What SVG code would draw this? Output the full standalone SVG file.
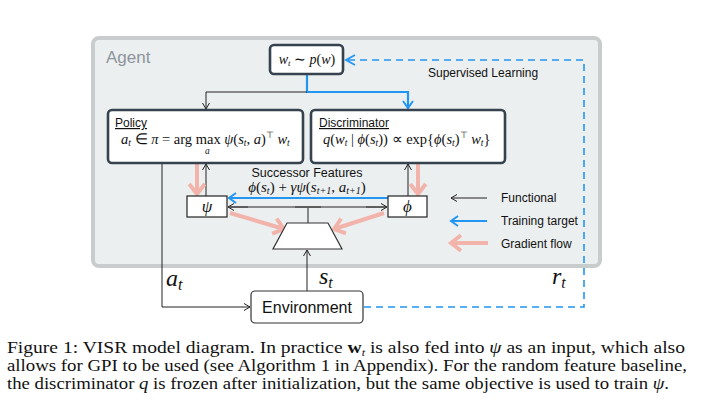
<svg xmlns="http://www.w3.org/2000/svg" width="710" height="405" viewBox="0 0 710 405">
<style>
.sans{font-family:"Liberation Sans",Arial,sans-serif;fill:#111}
.math{font-family:"Liberation Serif","Times New Roman",serif;font-style:italic;fill:#111}
.up{font-style:normal}
.box{fill:#fff;stroke:#36424e;stroke-width:2.6}
.small{fill:#fff;stroke:#222;stroke-width:1.2}
.blk{fill:none;stroke:#222;stroke-width:1}
.blue{fill:none;stroke:#2196f3;stroke-width:2.2}
.pink{fill:none;stroke:#f1b3aa;stroke-width:4}
.dash{fill:none;stroke:#2196f3;stroke-width:1.6;stroke-dasharray:7,5}
.cap{font-family:"Liberation Serif","Times New Roman",serif;font-size:16px;fill:#111}
</style>
<defs>
<marker id="ab" markerUnits="userSpaceOnUse" markerWidth="12" markerHeight="12" viewBox="-8 -6 10 12" refX="0" refY="0" orient="auto"><path d="M-6,-3.5 L0,0 L-6,3.5" fill="none" stroke="#222" stroke-width="1"/></marker>
<marker id="au" markerUnits="userSpaceOnUse" markerWidth="14" markerHeight="14" viewBox="-9 -7 11 14" refX="0" refY="0" orient="auto"><path d="M-7,-5 L0,0 L-7,5" fill="none" stroke="#2196f3" stroke-width="2"/></marker>
<marker id="ap" markerUnits="userSpaceOnUse" markerWidth="20" markerHeight="20" viewBox="-12 -9 14 18" refX="0" refY="0" orient="auto"><path d="M-9,-7 L0,0 L-9,7" fill="none" stroke="#f1b3aa" stroke-width="3.5"/></marker>
</defs>
<rect width="710" height="405" fill="#fff"/>
<g id="agent">
<rect x="93" y="38" width="507" height="228" rx="6" fill="#eceff0" stroke="#c9cccd" stroke-width="4"/>
<text x="106" y="63" font-family="Liberation Sans,Arial,sans-serif" font-size="17" fill="#8c959b">Agent</text>
</g>
<g id="connectors">
<path class="blue" d="M307,74 V92 H408 V108" marker-end="url(#au)"/>
<path class="blk" d="M307,92 H206 V109" marker-end="url(#ab)"/>
<path class="blk" d="M162,163 V307 H250" marker-end="url(#ab)"/>
<path class="blk" d="M307,291 V250" marker-end="url(#ab)"/>
<path class="blk" d="M206,196 V164" marker-end="url(#ab)"/>
<path class="blk" d="M408,196 V164" marker-end="url(#ab)"/>
<path class="blk" d="M308,223 V207"/>
<path d="M230,207 H248 M295,207 H321 M366,207 H386" stroke="#9a9a9a" stroke-width="2"/>
<path class="blk" d="M240,207 H228" marker-end="url(#ab)"/>
<path class="blk" d="M240,207 H387" marker-end="url(#ab)"/>
<path class="blue" d="M388,198 H229" marker-end="url(#au)"/>
<path class="pink" d="M197,164 V194" marker-end="url(#ap)"/>
<path class="pink" d="M418,164 V194" marker-end="url(#ap)"/>
<path class="pink" d="M230,213 L284,229" marker-end="url(#ap)"/>
<path class="pink" d="M384,213 L334,229" marker-end="url(#ap)"/>
<path class="dash" d="M364,307 H584 V60 H346"/>
<path d="M355,55 L346,60 L355,65" fill="none" stroke="#2196f3" stroke-width="1.8"/>
</g>
<g id="legend">
<path class="blk" d="M487,198 H451" marker-end="url(#ab)"/>
<path class="blue" d="M487,221 H451" marker-end="url(#au)"/>
<path class="pink" d="M488,243 H451" marker-end="url(#ap)"/>
<text class="sans" x="501" y="202" font-size="12">Functional</text>
<text class="sans" x="501" y="225" font-size="12">Training target</text>
<text class="sans" x="501" y="248" font-size="12">Gradient flow</text>
<text class="sans" x="428" y="77" font-size="12">Supervised Learning</text>
</g>
<g id="sampler">
<rect class="box" x="270" y="45" width="73" height="29" rx="4"/>
<text class="math" x="307" y="64" font-size="14" text-anchor="middle">w<tspan font-size="9" dy="2">t</tspan><tspan class="up" dy="-2"> ∼ </tspan>p<tspan class="up">(</tspan>w<tspan class="up">)</tspan></text>
</g>
<g id="policy">
<rect class="box" x="108" y="110" width="195" height="53" rx="4"/>
<text class="sans" x="115" y="127" font-size="12" text-decoration="underline">Policy</text>
<text class="math" x="121" y="144" font-size="14.5">a<tspan font-size="9.5" dy="2">t</tspan><tspan class="up" dy="-2"> ∈ </tspan>π<tspan class="up"> = arg max </tspan>ψ<tspan class="up">(</tspan>s<tspan font-size="9.5" dy="2">t</tspan><tspan class="up" dy="-2">, </tspan>a<tspan class="up">)</tspan><tspan class="up" font-size="9" dy="-6">⊤</tspan><tspan dy="6"> w</tspan><tspan font-size="9.5" dy="2">t</tspan></text>
<text class="math" x="205" y="154" font-size="9.5">a</text>
</g>
<g id="discriminator">
<rect class="box" x="311" y="110" width="194" height="53" rx="4"/>
<text class="sans" x="319" y="127" font-size="12" text-decoration="underline">Discriminator</text>
<text class="math" x="323" y="144" font-size="14.5">q<tspan class="up">(</tspan>w<tspan font-size="9.5" dy="2">t</tspan><tspan class="up" dy="-2"> | </tspan>ϕ<tspan class="up">(</tspan>s<tspan font-size="9.5" dy="2">t</tspan><tspan class="up" dy="-2">)) ∝ exp{</tspan>ϕ<tspan class="up">(</tspan>s<tspan font-size="9.5" dy="2">t</tspan><tspan class="up" dy="-2">)</tspan><tspan class="up" font-size="9" dy="-6">⊤</tspan><tspan dy="6"> w</tspan><tspan font-size="9.5" dy="2">t</tspan><tspan class="up" dy="-2">}</tspan></text>
</g>
<g id="psi">
<rect class="small" x="187" y="196" width="40" height="21"/>
<text class="math" x="207" y="212" font-size="17" text-anchor="middle">ψ</text>
</g>
<g id="phi">
<rect class="small" x="388" y="196" width="39" height="21"/>
<text class="math" x="407.5" y="212" font-size="17" text-anchor="middle">ϕ</text>
</g>
<g id="encoder">
<polygon points="287,223 328,223 342,249 273,249" fill="#fff" stroke="#333" stroke-width="1.2"/>
</g>
<g id="sf-label">
<text class="sans" x="307" y="177" font-size="12.5" text-anchor="middle">Successor Features</text>
<text class="math" x="307" y="192" font-size="15" text-anchor="middle">ϕ<tspan class="up">(</tspan>s<tspan font-size="10" dy="2">t</tspan><tspan class="up" dy="-2">) + </tspan>γψ<tspan class="up">(</tspan>s<tspan font-size="10" dy="2">t+1</tspan><tspan class="up" dy="-2">, </tspan>a<tspan font-size="10" dy="2">t+1</tspan><tspan class="up" dy="-2">)</tspan></text>
</g>
<g id="environment">
<rect x="251" y="291" width="112" height="32" rx="4" fill="#fff" stroke="#333" stroke-width="1.2"/>
<text class="sans" x="307" y="313" font-size="16" text-anchor="middle">Environment</text>
</g>
<g id="labels">
<text class="math" x="166" y="286" font-size="24">a<tspan font-size="16" dy="4">t</tspan></text>
<text class="math" x="319" y="284" font-size="24">s<tspan font-size="16" dy="4">t</tspan></text>
<text class="math" x="552" y="284" font-size="24">r<tspan font-size="16" dy="4">t</tspan></text>
</g>
<g id="caption">
<text class="cap" x="7" y="353" textLength="678" lengthAdjust="spacingAndGlyphs">Figure 1: VISR model diagram. In practice <tspan font-weight="bold">w</tspan><tspan font-size="10" font-style="italic" dy="3">t</tspan><tspan dy="-3"> is also fed into </tspan><tspan font-style="italic">ψ</tspan> as an input, which also</text>
<text class="cap" x="7" y="371" textLength="680" lengthAdjust="spacingAndGlyphs">allows for GPI to be used (see Algorithm 1 in Appendix). For the random feature baseline,</text>
<text class="cap" x="7" y="389" textLength="662" lengthAdjust="spacingAndGlyphs">the discriminator <tspan font-style="italic">q</tspan> is frozen after initialization, but the same objective is used to train <tspan font-style="italic">ψ</tspan>.</text>
</g>
</svg>
